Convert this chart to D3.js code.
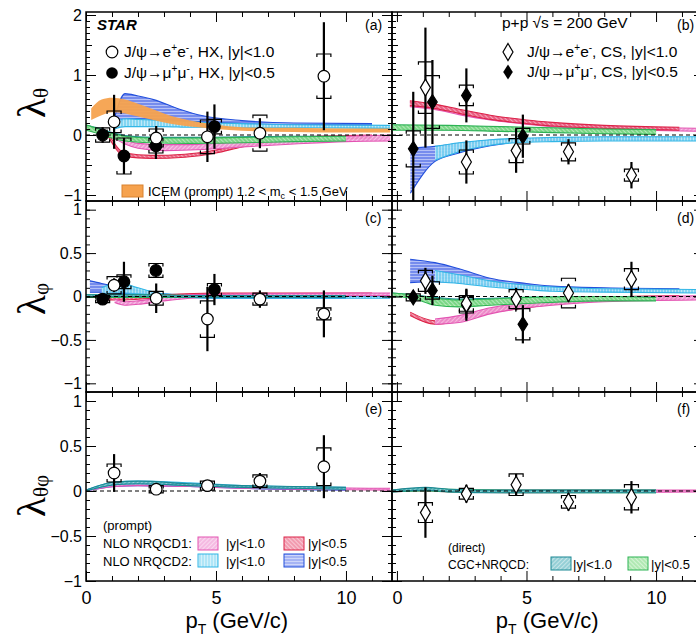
<!DOCTYPE html>
<html>
<head>
<meta charset="utf-8">
<script src="https://cdn.jsdelivr.net/npm/d3@7"></script>
<style>
  body { margin: 0; background: #fff; }
  svg { display: block; font-family: "Liberation Sans", Arial, Helvetica, sans-serif; }
</style>
</head>
<body>
<div id="chart"></div>
<script>
// ---- measured points: pT bin centres ----
const ptEE_HX = [1.08, 2.7, 4.67, 6.69, 9.15];
const ptMM_HX = [0.64, 1.46, 2.69, 4.94];
const ptEE_CS = [1.1, 2.68, 4.6, 6.62, 9.05];
const ptMM_CS = [0.63, 1.37, 2.68, 4.86];

// lambda_theta
const thetaHX_ee      = [0.22, -0.05, -0.03, 0.03, 0.98];
const thetaHX_ee_stat = [0.45, 0.2, 0.42, 0.25, 0.9];
const thetaHX_ee_sys  = [0.18, 0.15, 0.28, 0.3, 0.37];
const thetaHX_mm      = [0.0, -0.35, -0.18, 0.14];
const thetaHX_mm_stat = [0.13, 0.3, 0.22, 0.37];
const thetaHX_mm_sys  = [0.12, 0.3, 0.12, 0.12];
const thetaCS_ee      = [0.79, -0.45, -0.26, -0.28, -0.67];
const thetaCS_ee_stat = [1.0, 0.36, 0.37, 0.21, 0.22];
const thetaCS_ee_sys  = [0.43, 0.2, 0.2, 0.15, 0.1];
const thetaCS_mm      = [-0.23, 0.55, 0.66, -0.02];
const thetaCS_mm_stat = [0.95, 0.7, 0.45, 0.36];
const thetaCS_mm_sys  = [0.3, 0.44, 0.17, 0.13];

// lambda_phi
const phiHX_ee      = [0.13, -0.02, -0.26, -0.03, -0.2];
const phiHX_ee_stat = [0.08, 0.17, 0.37, 0.1, 0.27];
const phiHX_ee_sys  = [0.1, 0.08, 0.21, 0.07, 0.07];
const phiHX_mm      = [-0.03, 0.17, 0.3, 0.08];
const phiHX_mm_stat = [0.03, 0.23, 0.08, 0.18];
const phiHX_mm_sys  = [0.04, 0.08, 0.08, 0.07];
const phiCS_ee      = [0.18, -0.08, -0.03, 0.04, 0.2];
const phiCS_ee_stat = [0.15, 0.17, 0.13, 0.1, 0.2];
const phiCS_ee_sys  = [0.12, 0.09, 0.11, 0.17, 0.12];
const phiCS_mm      = [-0.01, 0.07, -0.1, -0.32];
const phiCS_mm_stat = [0.04, 0.17, 0.18, 0.22];
const phiCS_mm_sys  = [0.04, 0.1, 0.09, 0.18];

// lambda_thetaphi (only e+e-)
const tpHX_ee      = [0.2, 0.02, 0.06, 0.11, 0.27];
const tpHX_ee_stat = [0.21, 0.05, 0.06, 0.09, 0.35];
const tpHX_ee_sys  = [0.1, 0.04, 0.05, 0.07, 0.21];
const tpCS_ee      = [-0.24, -0.03, 0.07, -0.12, -0.07];
const tpCS_ee_stat = [0.28, 0.1, 0.12, 0.1, 0.18];
const tpCS_ee_sys  = [0.11, 0.06, 0.12, 0.07, 0.14];

// ---- model bands: [pT, low, high] ----
// (a) HX lambda_theta
const a_icem  = [[0.2,0.25,0.44],[0.6,0.33,0.59],[1.0,0.38,0.62],[1.5,0.36,0.59],[2,0.31,0.52],[2.5,0.26,0.44],[3,0.21,0.36],[3.5,0.17,0.29],[4,0.14,0.24],[5,0.1,0.17],[6,0.07,0.13],[8,0.05,0.12],[10,0.04,0.11],[11.7,0.04,0.11]];
const a_blue  = [[1.09,0.14,0.28],[1.5,0.26,0.69],[2,0.27,0.65],[2.6,0.26,0.59],[3.6,0.24,0.43],[4.5,0.22,0.32],[6,0.19,0.24],[8,0.17,0.2],[11,0.16,0.19]];
const a_cyan  = [[1.09,0.1,0.2],[1.5,0.14,0.27],[2,0.14,0.26],[3,0.14,0.24],[4,0.13,0.22],[5,0.13,0.2],[6,0.12,0.19],[8,0.12,0.17],[11.7,0.11,0.16]];
const a_red   = [[0.85,-0.02,0.03],[1.5,-0.36,-0.3],[2.5,-0.39,-0.34],[3.8,-0.37,-0.32],[5,-0.3,-0.25],[6,-0.2,-0.15],[7,-0.13,-0.08],[8,-0.09,-0.04],[10,-0.06,-0.01],[11,-0.05,0]];
const a_pink  = [[1.1,-0.06,0.0],[1.5,-0.15,-0.08],[2,-0.22,-0.14],[3,-0.26,-0.16],[4,-0.25,-0.16],[5,-0.23,-0.14],[6,-0.2,-0.11],[8,-0.15,-0.06],[10,-0.11,-0.02],[11.7,-0.1,0.0]];
const a_teal  = [[0,0.1,0.16],[0.5,0.05,0.11],[1,-0.02,0.04],[1.5,-0.07,-0.01],[2.5,-0.1,-0.04],[4,-0.11,-0.04],[6,-0.1,-0.03],[8,-0.09,-0.02],[10,-0.08,-0.02]];
const a_green = [[0,0.08,0.17],[0.5,0.02,0.1],[1,-0.05,0.03],[1.5,-0.1,-0.02],[2.5,-0.13,-0.05],[4,-0.14,-0.05],[6,-0.13,-0.04],[8,-0.11,-0.03],[10,-0.1,-0.02]];
// (b) CS lambda_theta
const b_blue  = [[0.52,-0.97,-0.22],[1.47,-0.44,-0.19],[2.4,-0.3,-0.14],[3.6,-0.18,-0.09],[5,-0.1,-0.06],[6,-0.09,-0.05],[8,-0.08,-0.04],[10.9,-0.08,-0.04]];
const b_cyan  = [[1.47,-0.42,-0.19],[2.4,-0.28,-0.13],[3.6,-0.17,-0.08],[5,-0.12,-0.05],[6,-0.11,-0.04],[8,-0.1,-0.03],[11.8,-0.1,-0.03]];
const b_pink  = [[0.5,0.47,0.55],[1.5,0.42,0.5],[2.4,0.34,0.42],[3.6,0.25,0.32],[5,0.18,0.24],[6,0.14,0.2],[8,0.1,0.15],[11.8,0.06,0.11]];
const b_red   = [[0.5,0.49,0.57],[1.5,0.44,0.51],[2.4,0.36,0.43],[3.6,0.26,0.33],[5,0.19,0.25],[6,0.15,0.21],[8,0.11,0.16],[10.9,0.08,0.13]];
const b_teal  = [[-0.19,0.1,0.16],[2,0.09,0.15],[4,0.07,0.13],[6,0.05,0.11],[8,0.03,0.09],[10,0.02,0.08]];
const b_green = [[-0.19,0.08,0.17],[2,0.08,0.16],[4,0.06,0.14],[6,0.04,0.12],[8,0.02,0.1],[10,0.01,0.09]];
// (c) HX lambda_phi
const c_blue  = [[0.15,0.05,0.18],[0.6,0.05,0.15],[1.1,0.04,0.12],[1.5,0.03,0.1],[2,0.02,0.07],[3,0.0,0.03],[4,-0.01,0.01],[6,-0.02,0.01],[10,-0.02,0.0]];
const c_cyan  = [[0.6,0.03,0.1],[1,0.04,0.14],[1.5,0.04,0.14],[2,0.03,0.1],[2.5,0.02,0.06],[3,0.0,0.03],[4,-0.01,0.02],[6,-0.02,0.01],[11.7,-0.02,0.0]];
const c_red   = [[0.5,-0.04,-0.01],[1.5,-0.04,-0.01],[3,-0.01,0.02],[5,0.01,0.04],[11,0.02,0.04]];
const c_pink  = [[1.1,-0.07,-0.03],[1.5,-0.1,-0.06],[2,-0.09,-0.05],[3,-0.05,-0.01],[4,-0.02,0.02],[6,0.0,0.03],[11.7,0.01,0.04]];
const c_teal  = [[0,0.0,0.02],[2,0.0,0.02],[5,-0.01,0.01],[10,-0.01,0.01]];
const c_green = [[0,-0.01,0.02],[2,-0.01,0.02],[5,-0.01,0.01],[10,-0.01,0.01]];
// (d) CS lambda_phi
const d_blue  = [[0.51,0.16,0.43],[1.47,0.17,0.39],[2.4,0.16,0.32],[3.6,0.13,0.21],[5,0.1,0.15],[6,0.08,0.12],[8,0.06,0.1],[10.9,0.05,0.09]];
const d_cyan  = [[1.47,0.17,0.3],[2.4,0.15,0.25],[3.6,0.11,0.18],[5,0.08,0.13],[6,0.06,0.11],[8,0.05,0.09],[11.8,0.04,0.08]];
const d_red   = [[0.51,-0.22,-0.18],[1.47,-0.32,-0.28],[2.4,-0.28,-0.24],[3.6,-0.19,-0.15],[5,-0.13,-0.09],[6,-0.09,-0.05],[8,-0.05,-0.01],[10.9,-0.03,0.01]];
const d_pink  = [[1.47,-0.32,-0.26],[2.4,-0.3,-0.22],[3.6,-0.2,-0.13],[5,-0.13,-0.07],[6,-0.1,-0.04],[8,-0.06,-0.01],[11.8,-0.04,0.01]];
const d_teal  = [[-0.19,0.01,0.04],[0.6,-0.01,0.02],[1.47,-0.07,-0.01],[2.4,-0.09,-0.03],[3.6,-0.08,-0.02],[5,-0.06,-0.01],[8,-0.04,0.0],[10,-0.04,-0.01]];
const d_green = [[-0.19,0.0,0.04],[0.6,-0.02,0.02],[1.47,-0.1,-0.02],[2.4,-0.12,-0.04],[3.6,-0.1,-0.03],[5,-0.08,-0.01],[8,-0.05,0.0],[10,-0.05,-0.01]];
// (e) HX lambda_thetaphi
const e_blue  = [[0,0,0.01],[1.1,0.05,0.08],[2,0.06,0.09],[4,0.05,0.07],[6,0.03,0.05],[10,0.01,0.03]];
const e_pink  = [[0,0,0.01],[1.1,0.05,0.08],[2,0.06,0.09],[4,0.05,0.08],[6,0.03,0.05],[11.7,0.01,0.03]];
const e_cyan  = [[0,0,0.01],[1.1,0.07,0.1],[2,0.08,0.11],[4,0.06,0.09],[6,0.04,0.06],[8,0.03,0.05],[10,0.02,0.04]];
const e_teal  = [[0,0,0.01],[1.1,0.07,0.1],[2,0.08,0.11],[4,0.06,0.08],[6,0.04,0.06],[8,0.03,0.05],[10,0.02,0.04]];
// (f) CS lambda_thetaphi
const f_pink  = [[-0.19,-0.01,0.01],[1.1,0.0,0.03],[2,-0.01,0.01],[5,-0.02,0.01],[11.8,-0.01,0.01]];
const f_green = [[-0.19,-0.01,0.01],[1.1,0.0,0.03],[2,-0.01,0.02],[5,-0.02,0.01],[10,-0.02,0.01]];
const f_teal  = [[-0.19,-0.01,0.01],[1.1,0.01,0.04],[2,-0.01,0.02],[4,-0.02,0.01],[10,-0.02,0.01]];

// ---- tick values ----
const xMajor = [0, 5, 10];
const xMinor = [1, 2, 3, 4, 6, 7, 8, 9, 11];
const yMajorTheta = [-1, 0, 1, 2];
const yMajorSmall = [-1, -0.5, 0, 0.5, 1];

// ---- layout ----
const W = 696, H = 636;
const cols = {
  HX: { r: [86, 392], d: [0, 11.77] },
  CS: { r: [392, 704], d: [-0.19, 11.85] }
};
const rows = {
  theta:    { r: [201, 12],  d: [-1.1, 2.05], major: yMajorTheta, mid: [-0.5, 0.5, 1.5] },
  phi:      { r: [392, 201], d: [-1.1, 1.1],  major: yMajorSmall, mid: [] },
  thetaphi: { r: [581, 392], d: [-1, 1.1],    major: yMajorSmall, mid: [] }
};

const styles = {
  pink:  { bg: "#ee8ccf", edge: "#e354b2", angle: 45 },
  red:   { bg: "#e9587a", edge: "#dc2448", angle: -45 },
  cyan:  { bg: "#7ad3f1", edge: "#32b6e6", angle: 0 },
  blue:  { bg: "#6a82ec", edge: "#2350dc", angle: 90 },
  teal:  { bg: "#4eafba", edge: "#1b8893", angle: 45 },
  green: { bg: "#7cda80", edge: "#2db354", angle: -45 }
};

const panels = [
  { id: "a", col: "HX", row: "theta", label: "(a)",
    bands: [["blue", a_blue], ["cyan", a_cyan], ["icem", a_icem], ["red", a_red], ["pink", a_pink], ["teal", a_teal], ["green", a_green]],
    ee: [ptEE_HX, thetaHX_ee, thetaHX_ee_stat, thetaHX_ee_sys], mm: [ptMM_HX, thetaHX_mm, thetaHX_mm_stat, thetaHX_mm_sys] },
  { id: "b", col: "CS", row: "theta", label: "(b)",
    bands: [["blue", b_blue], ["cyan", b_cyan], ["pink", b_pink], ["red", b_red], ["teal", b_teal], ["green", b_green]],
    ee: [ptEE_CS, thetaCS_ee, thetaCS_ee_stat, thetaCS_ee_sys], mm: [ptMM_CS, thetaCS_mm, thetaCS_mm_stat, thetaCS_mm_sys] },
  { id: "c", col: "HX", row: "phi", label: "(c)",
    bands: [["blue", c_blue], ["cyan", c_cyan], ["red", c_red], ["pink", c_pink], ["green", c_green], ["teal", c_teal]],
    ee: [ptEE_HX, phiHX_ee, phiHX_ee_stat, phiHX_ee_sys], mm: [ptMM_HX, phiHX_mm, phiHX_mm_stat, phiHX_mm_sys] },
  { id: "d", col: "CS", row: "phi", label: "(d)",
    bands: [["blue", d_blue], ["cyan", d_cyan], ["red", d_red], ["pink", d_pink], ["teal", d_teal], ["green", d_green]],
    ee: [ptEE_CS, phiCS_ee, phiCS_ee_stat, phiCS_ee_sys], mm: [ptMM_CS, phiCS_mm, phiCS_mm_stat, phiCS_mm_sys] },
  { id: "e", col: "HX", row: "thetaphi", label: "(e)",
    bands: [["blue", e_blue], ["pink", e_pink], ["cyan", e_cyan], ["teal", e_teal]],
    ee: [ptEE_HX, tpHX_ee, tpHX_ee_stat, tpHX_ee_sys], mm: null },
  { id: "f", col: "CS", row: "thetaphi", label: "(f)",
    bands: [["pink", f_pink], ["green", f_green], ["teal", f_teal]],
    ee: [ptEE_CS, tpCS_ee, tpCS_ee_stat, tpCS_ee_sys], mm: null }
];

const svg = d3.select("#chart").append("svg")
  .attr("width", W).attr("height", H)
  .attr("viewBox", `0 0 ${W} ${H}`);
const defs = svg.append("defs");

// hatch patterns
Object.entries(styles).forEach(([k, s]) => {
  const p = defs.append("pattern")
    .attr("id", "hatch-" + k)
    .attr("patternUnits", "userSpaceOnUse")
    .attr("width", 3).attr("height", 3)
    .attr("patternTransform", `rotate(${s.angle})`);
  p.append("rect").attr("width", 3).attr("height", 3).attr("fill", s.bg);
  p.append("line").attr("x1", 0.5).attr("x2", 0.5).attr("y1", 0).attr("y2", 3)
    .attr("stroke", "#fff").attr("stroke-width", 0.7).attr("stroke-opacity", 0.65);
});

// small helper for sub/superscript text
function richText(g, x, y, parts, size, attrs) {
  const t = g.append("text").attr("x", x).attr("y", y).attr("font-size", size);
  if (attrs) Object.entries(attrs).forEach(([k, v]) => t.attr(k, v));
  let shift = 0;
  parts.forEach(([txt, kind, fs]) => {
    let target = 0;
    if (kind === "sup") target = -size * 0.4;
    if (kind === "sub") target = size * 0.25;
    const ts = t.append("tspan").attr("dy", target - shift).text(txt);
    if (kind) ts.attr("font-size", fs || size * 0.65);
    shift = target;
  });
  return t;
}

function diamond(w, h) {
  return `M0,${-h}L${w},0L0,${h}L${-w},0Z`;
}

panels.forEach(p => {
  const c = cols[p.col], r = rows[p.row];
  const x = d3.scaleLinear().domain(c.d).range(c.r);
  const y = d3.scaleLinear().domain(r.d).range(r.r);
  const g = svg.append("g").attr("class", "panel-" + p.id);

  defs.append("clipPath").attr("id", "clip-" + p.id)
    .append("rect").attr("x", c.r[0]).attr("y", r.r[1])
    .attr("width", c.r[1] - c.r[0]).attr("height", r.r[0] - r.r[1]);
  const plot = g.append("g").attr("clip-path", `url(#clip-${p.id})`);

  // bands
  const area = d3.area().x(d => x(d[0])).y0(d => y(d[1])).y1(d => y(d[2])).curve(d3.curveMonotoneX);
  const lineLo = d3.line().x(d => x(d[0])).y(d => y(d[1])).curve(d3.curveMonotoneX);
  const lineHi = d3.line().x(d => x(d[0])).y(d => y(d[2])).curve(d3.curveMonotoneX);
  p.bands.forEach(([kind, data]) => {
    if (kind === "icem") {
      plot.append("path").attr("d", area(data)).attr("fill", "#f6a24e").attr("fill-opacity", 0.95);
      return;
    }
    const s = styles[kind];
    plot.append("path").attr("d", area(data)).attr("fill", `url(#hatch-${kind})`).attr("fill-opacity", 0.92);
    [lineLo, lineHi].forEach(l => plot.append("path").attr("d", l(data))
      .attr("fill", "none").attr("stroke", s.edge).attr("stroke-width", 1.1));
  });

  // zero line
  plot.append("line").attr("x1", c.r[0]).attr("x2", c.r[1]).attr("y1", y(0)).attr("y2", y(0))
    .attr("stroke", "#000").attr("stroke-width", 1).attr("stroke-dasharray", "4,3");

  // points
  const series = [];
  if (p.mm) series.push({ cols: p.mm, filled: true });
  series.push({ cols: p.ee, filled: false });
  series.forEach(sr => {
    const pts = d3.zip(...sr.cols);
    const sel = plot.append("g").selectAll("g").data(pts).join("g");
    // systematic brackets
    sel.append("path")
      .attr("d", d => {
        const px = x(d[0]), yt = y(d[1] + d[3]), yb = y(d[1] - d[3]);
        return `M${px - 7},${yt + 3}V${yt}H${px + 7}V${yt + 3}M${px - 7},${yb - 3}V${yb}H${px + 7}V${yb - 3}`;
      })
      .attr("fill", "none").attr("stroke", "#000").attr("stroke-width", 1.2);
    // statistical bar
    sel.append("line")
      .attr("x1", d => x(d[0])).attr("x2", d => x(d[0]))
      .attr("y1", d => y(d[1] + d[2])).attr("y2", d => y(d[1] - d[2]))
      .attr("stroke", "#000").attr("stroke-width", 2.2);
    // marker
    if (p.col === "HX") {
      sel.append("circle").attr("cx", d => x(d[0])).attr("cy", d => y(d[1])).attr("r", 5.8)
        .attr("fill", sr.filled ? "#000" : "#fff").attr("stroke", "#000").attr("stroke-width", 1.2);
    } else {
      sel.append("path").attr("transform", d => `translate(${x(d[0])},${y(d[1])})`)
        .attr("d", sr.filled ? diamond(4.8, 7.5) : diamond(5, 8.5))
        .attr("fill", sr.filled ? "#000" : "#fff").attr("stroke", "#000").attr("stroke-width", 1.2);
    }
  });

  // axes (inward ticks, ROOT style)
  const showY = p.col === "HX";
  const showX = p.row === "thetaphi";
  const minorY = d3.range(Math.ceil(r.d[0] * 10), Math.floor(r.d[1] * 10) + 1).map(v => v / 10);
  const ax = (gen, pos, vals, size, fmt) => {
    const a = g.append("g").attr("transform", pos)
      .call(gen.tickValues(vals).tickSize(-size).tickPadding(4).tickFormat(fmt || ""));
    a.select(".domain").remove();
    a.selectAll("line").attr("stroke", "#000").attr("stroke-width", 1);
    return a;
  };
  const fmt = d3.format("~g");
  ax(d3.axisLeft(y), `translate(${c.r[0]},0)`, minorY, 4);
  ax(d3.axisLeft(y), `translate(${c.r[0]},0)`, r.mid, 6);
  const yl = ax(d3.axisLeft(y), `translate(${c.r[0]},0)`, r.major, 10, showY ? fmt : "");
  yl.selectAll("text").attr("font-size", 16).attr("fill", "#000");
  ax(d3.axisRight(y), `translate(${c.r[1]},0)`, minorY, 4);
  ax(d3.axisRight(y), `translate(${c.r[1]},0)`, r.major, 10);
  ax(d3.axisTop(x), `translate(0,${r.r[1]})`, xMinor, 5);
  ax(d3.axisTop(x), `translate(0,${r.r[1]})`, xMajor, 10);
  ax(d3.axisBottom(x), `translate(0,${r.r[0]})`, xMinor, 5);
  const xl = ax(d3.axisBottom(x), `translate(0,${r.r[0]})`, xMajor, 10, showX ? fmt : "");
  xl.selectAll("text").attr("font-size", 18).attr("fill", "#000").attr("dy", "1.05em");

  // frame
  g.append("rect").attr("x", c.r[0]).attr("y", r.r[1])
    .attr("width", c.r[1] - c.r[0]).attr("height", r.r[0] - r.r[1])
    .attr("fill", "none").attr("stroke", "#000").attr("stroke-width", 1.5);

  // panel label
  g.append("text").attr("x", c.r[0] + (p.col === "HX" ? 279 : 285))
    .attr("y", r.r[1] + (p.row === "theta" ? 18 : 22))
    .attr("font-size", 14).text(p.label);

  if (showX) {
    richText(g, x(5.8), 628, [["p"], ["T", "sub", 14], [" (GeV/c)"]], 22, { "text-anchor": "middle" });
  }
});

// y-axis titles
const yTitles = [
  { y: 118, sub: "θ" },
  { y: 315, sub: "φ" },
  { y: 517, sub: "θφ" }
];
yTitles.forEach(t => {
  const tx = svg.append("text")
    .attr("transform", `translate(45,${t.y}) rotate(-90)`)
    .attr("font-family", "'Liberation Serif', 'DejaVu Serif', serif")
    .attr("font-size", 41);
  tx.append("tspan").text("λ");
  tx.append("tspan").attr("font-size", 21).attr("dy", 3).text(t.sub);
});

// ---- legends ----
const leg = svg.append("g");
leg.append("text").attr("x", 97).attr("y", 30).attr("font-size", 15)
  .attr("font-weight", "bold").attr("font-style", "italic").text("STAR");
leg.append("circle").attr("cx", 112).attr("cy", 52).attr("r", 5.8)
  .attr("fill", "#fff").attr("stroke", "#000").attr("stroke-width", 1.2);
richText(leg, 124, 57, [["J/ψ→e"], ["+", "sup"], ["e"], ["-", "sup"], [", HX, |y|<1.0"]], 15.5);
leg.append("circle").attr("cx", 112).attr("cy", 73).attr("r", 5.8).attr("fill", "#000");
richText(leg, 124, 78, [["J/ψ→μ"], ["+", "sup"], ["μ"], ["-", "sup"], [", HX, |y|<0.5"]], 15.5);

leg.append("rect").attr("x", 122).attr("y", 185).attr("width", 21).attr("height", 12)
  .attr("fill", "#f6a24e").attr("stroke", "#d9822e");
richText(leg, 148, 196, [["ICEM (prompt) 1.2 < m"], ["c", "sub", 9], [" < 1.5 GeV"]], 13);

leg.append("text").attr("x", 502).attr("y", 28).attr("font-size", 15.5).text("p+p  √s = 200 GeV");
leg.append("path").attr("transform", "translate(508,52)").attr("d", diamond(5, 8.5))
  .attr("fill", "#fff").attr("stroke", "#000").attr("stroke-width", 1.2);
richText(leg, 527, 57, [["J/ψ→e"], ["+", "sup"], ["e"], ["-", "sup"], [", CS, |y|<1.0"]], 15.5);
leg.append("path").attr("transform", "translate(508,72)").attr("d", diamond(4.8, 7.5)).attr("fill", "#000");
richText(leg, 527, 77, [["J/ψ→μ"], ["+", "sup"], ["μ"], ["-", "sup"], [", CS, |y|<0.5"]], 15.5);

// model legend (e)
const swatch = (x, yy, kind) => leg.append("rect").attr("x", x).attr("y", yy).attr("width", 20).attr("height", 13)
  .attr("fill", `url(#hatch-${kind})`).attr("fill-opacity", 0.6)
  .attr("stroke", styles[kind].edge).attr("stroke-width", 1);
leg.append("text").attr("x", 103).attr("y", 530).attr("font-size", 13).text("(prompt)");
leg.append("text").attr("x", 103).attr("y", 548).attr("font-size", 13).text("NLO NRQCD1:");
leg.append("text").attr("x", 103).attr("y", 566).attr("font-size", 13).text("NLO NRQCD2:");
swatch(198, 537, "pink"); swatch(284, 537, "red");
swatch(198, 554, "cyan"); swatch(284, 554, "blue");
leg.append("text").attr("x", 226).attr("y", 548).attr("font-size", 13).text("|y|<1.0");
leg.append("text").attr("x", 308).attr("y", 548).attr("font-size", 13).text("|y|<0.5");
leg.append("text").attr("x", 226).attr("y", 566).attr("font-size", 13).text("|y|<1.0");
leg.append("text").attr("x", 308).attr("y", 566).attr("font-size", 13).text("|y|<0.5");

// model legend (f)
leg.append("text").attr("x", 448).attr("y", 552).attr("font-size", 12).text("(direct)");
leg.append("text").attr("x", 448).attr("y", 569).attr("font-size", 12).text("CGC+NRQCD:");
swatch(551, 557, "teal"); swatch(628, 557, "green");
leg.append("text").attr("x", 573).attr("y", 569).attr("font-size", 13).text("|y|<1.0");
leg.append("text").attr("x", 651).attr("y", 569).attr("font-size", 13).text("|y|<0.5");
</script>
</body>
</html>
